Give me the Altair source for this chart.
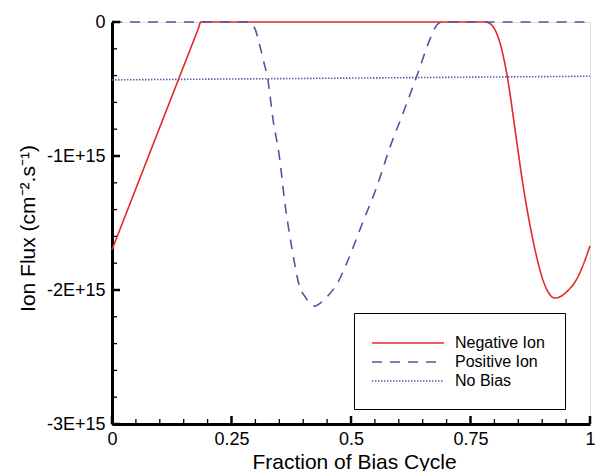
import altair as alt
import pandas as pd

# ---- data (y in units of 1E+15 cm^-2 s^-1) ----
series_names = ["Negative Ion", "Positive Ion", "No Bias"]

neg_x = [0.0, 0.09, 0.18, 0.186, 0.5, 0.78, 0.79, 0.80, 0.812, 0.828, 0.845, 0.86, 0.872,
         0.885, 0.902, 0.915, 0.927, 0.94, 0.955, 0.972, 0.986, 1.0]
neg_y = [-1.70, -0.877, -0.055, 0.0, 0.0, 0.0, -0.01, -0.05, -0.16, -0.43, -0.85, -1.22, -1.47,
         -1.70, -1.93, -2.03, -2.06, -2.045, -2.00, -1.92, -1.81, -1.67]

pos_x = [0.0, 0.15, 0.285, 0.299, 0.308, 0.317, 0.326, 0.337, 0.350, 0.362, 0.376,
         0.393, 0.404, 0.414, 0.425, 0.435, 0.45, 0.473, 0.491, 0.524, 0.556, 0.578,
         0.61, 0.64, 0.665, 0.68, 0.69, 0.85, 1.0]
pos_y = [0.0, 0.0, 0.0, -0.05, -0.16, -0.29, -0.43, -0.73, -1.0, -1.36, -1.68,
         -1.98, -2.05, -2.10, -2.12, -2.10, -2.05, -1.94, -1.80, -1.50, -1.21, -0.97,
         -0.67, -0.38, -0.13, -0.02, 0.0, 0.0, 0.0]

nobias_x = [0.0, 1.0]
nobias_y = [-0.432, -0.405]

x_major = [0, 0.25, 0.5, 0.75, 1]
x_minor = [0.05, 0.1, 0.15, 0.2, 0.3, 0.35, 0.4, 0.45, 0.55, 0.6, 0.65, 0.7,
           0.8, 0.85, 0.9, 0.95]
y_major = [0, -1, -2, -3]
y_minor = [-0.2, -0.4, -0.6, -0.8, -1.2, -1.4, -1.6, -1.8, -2.2, -2.4, -2.6, -2.8]

rows = []
for name, xs, ys in [("Negative Ion", neg_x, neg_y),
                     ("Positive Ion", pos_x, pos_y),
                     ("No Bias", nobias_x, nobias_y)]:
    for i, (a, b) in enumerate(zip(xs, ys)):
        rows.append({"series": name, "x": a, "y": b, "i": i})
df = pd.DataFrame(rows)

W, H = 478, 402
FONT = "Liberation Sans"

xscale = alt.Scale(domain=[0, 1], nice=False, zero=False)
yscale = alt.Scale(domain=[-3, 0], nice=False, zero=False)

common = dict(grid=False, ticks=False, domainColor="black", domainWidth=3,
              labelFont=FONT, labelFontSize=18, labelColor="black",
              titleFont=FONT, titleFontSize=21, titleColor="black",
              titleFontWeight="normal")

xaxis = alt.Axis(values=x_major, title="Fraction of Bias Cycle",
                 labelExpr="'' + datum.value", labelFlush=False,
                 labelPadding=6, titleX=242, titleY=44,
                 titleBaseline="alphabetic", titleAlign="center", **common)
yaxis = alt.Axis(values=y_major, title="Ion Flux (cm\u207b\u00b2.s\u207b\u00b9)",
                 labelExpr="datum.value == 0 ? '0' : datum.value + 'E+15'",
                 labelPadding=7, titleX=-78, titleY=206, titleAngle=-90,
                 titleBaseline="alphabetic", titleAlign="center", **common)

legend = alt.Legend(title=None, orient="none", legendX=242, legendY=291,
                    strokeColor="black", fillColor="white", padding=20,
                    labelFont=FONT, labelFontSize=16, labelColor="black",
                    symbolType="M-4,0H4", symbolSize=324, symbolOffset=24,
                    symbolStrokeWidth=1.5, labelOffset=37, rowPadding=1)

lines = alt.Chart(df).mark_line(interpolate="monotone", strokeWidth=1.6).encode(
    x=alt.X("x:Q", scale=xscale, axis=xaxis),
    y=alt.Y("y:Q", scale=yscale, axis=yaxis),
    color=alt.Color("series:N",
                    scale=alt.Scale(domain=series_names,
                                    range=["#e5292a", "#55539f", "#5d5ea6"]),
                    legend=legend),
    strokeDash=alt.StrokeDash("series:N",
                              scale=alt.Scale(domain=series_names,
                                              range=[[1, 0], [10, 8], [1.5, 1.5]]),
                              legend=legend),
    order="i:Q",
)

xmaj = alt.Chart(pd.DataFrame({"x": x_major})).mark_rule(color="black", strokeWidth=2.5).encode(
    x=alt.X("x:Q", scale=xscale, axis=xaxis), y=alt.value(H), y2=alt.value(H - 8))
xmin = alt.Chart(pd.DataFrame({"x": x_minor})).mark_rule(color="black", strokeWidth=1.3).encode(
    x=alt.X("x:Q", scale=xscale, axis=xaxis), y=alt.value(H), y2=alt.value(H - 5))
ymaj = alt.Chart(pd.DataFrame({"y": y_major})).mark_rule(color="black", strokeWidth=2.5).encode(
    y=alt.Y("y:Q", scale=yscale, axis=yaxis), x=alt.value(0), x2=alt.value(8))
ymin = alt.Chart(pd.DataFrame({"y": y_minor})).mark_rule(color="black", strokeWidth=1.3).encode(
    y=alt.Y("y:Q", scale=yscale, axis=yaxis), x=alt.value(0), x2=alt.value(5))

chart = alt.layer(lines, xmaj, xmin, ymaj, ymin).properties(
    width=W, height=H,
    autosize=alt.AutoSizeParams(type="none"),
    padding={"left": 112, "top": 22, "right": 5, "bottom": 47},
).configure_view(stroke=None).configure(background="white")

chart.save("out.html", embed_options={"renderer": "svg", "actions": False})
